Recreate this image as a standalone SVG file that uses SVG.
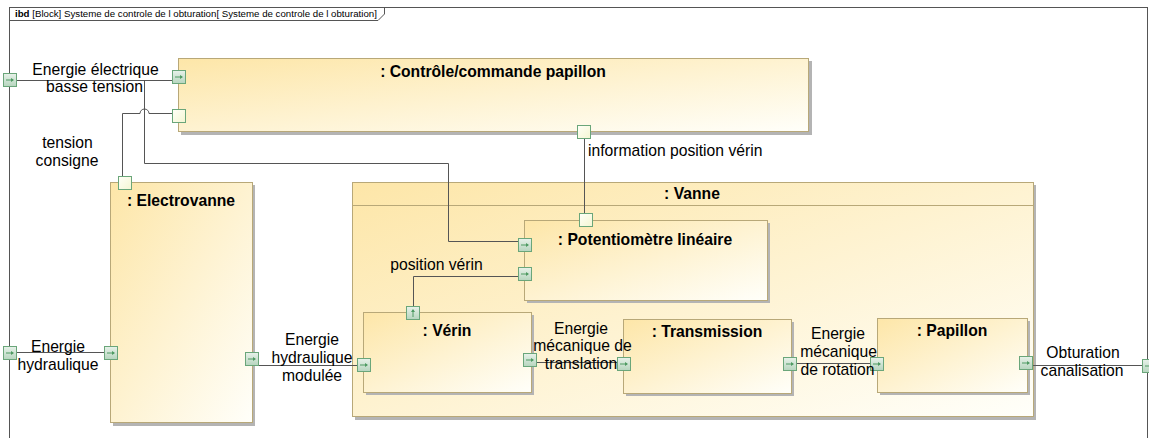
<svg xmlns="http://www.w3.org/2000/svg" width="1149" height="438" viewBox="0 0 1149 438">
<style>
.blk{stroke:#B8A878;stroke-width:1;fill:url(#gB)}
.shd{fill:#B4B4B4}
.t{font-family:"Liberation Sans",Arial,sans-serif;font-size:15.7px;fill:#000;text-anchor:middle}
.tl{text-anchor:start}
.b{font-weight:bold}
.c{fill:none;stroke:#555;stroke-width:1}
.pr{fill:url(#gP);stroke:#6AA67A;stroke-width:1}
.pw{fill:url(#gW);stroke:#6AA67A;stroke-width:1}
.ar{fill:none;stroke:#4E9A62;stroke-width:1}
.ah{fill:#4E9A62}
</style>
<defs>
<linearGradient id="gB" x1="0" y1="0" x2="1" y2="1">
<stop offset="0" stop-color="#FDE6A8"/>
<stop offset="1" stop-color="#FFFFFA"/>
</linearGradient>
<linearGradient id="gP" x1="0" y1="0" x2="0" y2="1">
<stop offset="0" stop-color="#E8F2EA"/>
<stop offset="1" stop-color="#B6D5BE"/>
</linearGradient>
<linearGradient id="gW" x1="0" y1="0" x2="1" y2="1">
<stop offset="0" stop-color="#FFFFF8"/>
<stop offset="1" stop-color="#F4F6D2"/>
</linearGradient>
<g id="pR">
<rect class="pr" x="0.5" y="0.5" width="13" height="13"/>
<path class="ar" d="M3,7 H10"/>
<path class="ah" d="M11,7 L8,5 L8,9 Z"/>
</g>
<g id="pU">
<rect class="pr" x="0.5" y="0.5" width="13" height="13"/>
<path class="ar" d="M7,11 V4"/>
<path class="ah" d="M7,3 L5,6 L9,6 Z"/>
</g>
<g id="pW">
<rect class="pw" x="0.5" y="0.5" width="13" height="13"/>
</g>
</defs>
<rect x="0" y="0" width="1149" height="438" fill="#fff"/>

<g id="frame">
<rect x="9.5" y="7.5" width="1138" height="440" fill="none" stroke="#555"/>
<path d="M9.5,20.5 H378 L384.5,14 V7.5" fill="none" stroke="#555"/>
<text x="15" y="17" font-family="Liberation Sans,Arial,sans-serif" font-size="9.7px"><tspan font-weight="bold">ibd</tspan> [Block] Systeme de controle de l obturation[ Systeme de controle de l obturation]</text>
</g>

<g id="controle">
<rect class="shd" x="181" y="61" width="631" height="74"/>
<rect class="blk" x="178.5" y="58.5" width="630" height="73"/>
<text class="t b" x="493" y="77">: Contrôle/commande papillon</text>
</g>

<g id="electrovanne">
<rect class="shd" x="113" y="185" width="142" height="241"/>
<rect class="blk" x="110.5" y="182.5" width="142" height="240"/>
<text class="t b" x="181" y="206">: Electrovanne</text>
</g>

<g id="vanne">
<rect class="shd" x="355" y="185" width="681" height="235"/>
<rect class="blk" x="352.5" y="182.5" width="681" height="234"/>
<line x1="352.5" y1="205.5" x2="1033.5" y2="205.5" stroke="#B8A878"/>
<text class="t b" x="692" y="199">: Vanne</text>
</g>

<g id="potentiometre">
<rect class="shd" x="527" y="223" width="243" height="80"/>
<rect class="blk" x="524.5" y="220.5" width="243" height="80"/>
<text class="t b" x="645" y="245">: Potentiomètre linéaire</text>
</g>

<g id="verin">
<rect class="shd" x="366" y="315" width="168" height="80"/>
<rect class="blk" x="363.5" y="312.5" width="168" height="80"/>
<text class="t b" x="447" y="336">: Vérin</text>
</g>

<g id="transmission">
<rect class="shd" x="626" y="322" width="168" height="74"/>
<rect class="blk" x="623.5" y="319.5" width="168" height="74"/>
<text class="t b" x="707" y="337">: Transmission</text>
</g>

<g id="papillon">
<rect class="shd" x="880" y="321" width="150" height="74"/>
<rect class="blk" x="877.5" y="318.5" width="150" height="74"/>
<text class="t b" x="952" y="336">: Papillon</text>
</g>

<g id="connectors">
<path class="c" d="M17,80.5 H172"/>
<path class="c" d="M144.5,80.5 V163.5 H448.5 V241.5 H518"/>
<path class="c" d="M122.5,176 V113.5 H140 A4.5,4.5 0 0 1 149,113.5 H172"/>
<path class="c" d="M584.5,139 V213"/>
<path class="c" d="M17,352.5 H104"/>
<path class="c" d="M259,365.5 H357"/>
<path class="c" d="M518,276.5 H413.5 V306"/>
<path class="c" d="M537,362.5 H617"/>
<path class="c" d="M797,363.5 H870"/>
<path class="c" d="M1033,365.5 H1142"/>
</g>

<g id="ports">
<use href="#pR" x="3" y="73"/>
<use href="#pR" x="172" y="70"/>
<use href="#pW" x="172" y="109"/>
<use href="#pW" x="577" y="125"/>
<use href="#pW" x="118" y="176"/>
<use href="#pR" x="3" y="346"/>
<use href="#pR" x="104" y="346"/>
<use href="#pR" x="245" y="352"/>
<use href="#pR" x="357" y="358"/>
<use href="#pU" x="406" y="306"/>
<use href="#pR" x="523" y="353"/>
<use href="#pR" x="617" y="357"/>
<use href="#pR" x="783" y="357"/>
<use href="#pR" x="870" y="357"/>
<use href="#pR" x="1019" y="356"/>
<use href="#pR" x="1142" y="359"/>
<use href="#pW" x="579" y="213"/>
<use href="#pR" x="518" y="238"/>
<use href="#pR" x="518" y="267"/>
</g>

<g id="labels">
<text class="t" x="95.5" y="74.5">Energie électrique</text>
<text class="t" x="94.5" y="92">basse tension</text>
<text class="t" x="67.5" y="148">tension</text>
<text class="t" x="67" y="166">consigne</text>
<text class="t tl" x="588" y="156">information position vérin</text>
<text class="t" x="436.5" y="270">position vérin</text>
<text class="t" x="58" y="352">Energie</text>
<text class="t" x="58" y="369.5">hydraulique</text>
<text class="t" x="312" y="345">Energie</text>
<text class="t" x="312" y="363">hydraulique</text>
<text class="t" x="312" y="381">modulée</text>
<text class="t" x="581" y="333.5">Energie</text>
<text class="t" x="582.5" y="351">mécanique de</text>
<text class="t" x="581" y="369">translation</text>
<text class="t" x="838" y="339">Energie</text>
<text class="t" x="838.5" y="357">mécanique</text>
<text class="t" x="837.5" y="375">de rotation</text>
<text class="t" x="1083" y="358">Obturation</text>
<text class="t" x="1082" y="376">canalisation</text>
</g>
</svg>
